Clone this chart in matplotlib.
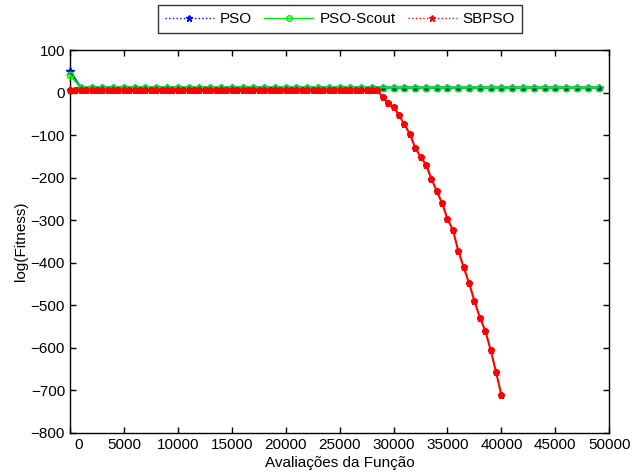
import matplotlib.pyplot as plt
import matplotlib.transforms as mtransforms
from matplotlib.lines import Line2D
import numpy as np

plt.rcParams['font.family'] = ['Liberation Sans', 'DejaVu Sans']
plt.rcParams['font.size'] = 11

# PSO and PSO-Scout: one point every 1000 evaluations
x_pso = np.arange(0, 50000, 1000)
pso = [50] + [12] * 49
pso_scout = [42] + [12] * 49

# SBPSO: one point every 500 evaluations
x_sbpso = np.arange(0, 40001, 500)
sbpso = [6] * 58 + [-11, -25, -33, -53, -74, -97, -129, -151, -169, -202,
                    -231, -260, -297, -323, -372, -411, -448, -490, -529,
                    -560, -605, -657, -712]

xticks = np.arange(0, 50001, 5000)
yticks = np.arange(-800, 101, 100)

fig = plt.figure(figsize=(6.36, 4.73), dpi=100)
ax = fig.add_axes([0.110, 0.085, 0.848, 0.809])

ax.plot(x_pso, pso, color='#0000ff', lw=1.5, marker='*', ms=6, mew=1,
        clip_on=False, zorder=3)
ax.plot(x_pso, pso_scout, color='#00ee00', lw=1.5, marker='o', ms=4.5,
        mfc='none', mew=1.2, clip_on=False, zorder=3)
ax.plot(x_sbpso, sbpso, color='#ff0000', lw=1.5, marker='*', ms=5, mew=1,
        clip_on=False, zorder=4)
ax.plot(x_sbpso, sbpso, color='#ff0000', lw=0, marker='o', ms=4,
        clip_on=False, zorder=4)

ax.set_xlim(0, 50000)
ax.set_ylim(-800, 100)
ax.set_xticks(xticks)
ax.set_yticks(yticks)
ax.tick_params(direction='in', top=True, right=True, length=4, width=1,
               labelsize=11)
for s in ax.spines.values():
    s.set_linewidth(1)

# MATLAB-ish nudge on the "0" label
lbl0 = ax.get_xticklabels()[0]
lbl0.set_transform(lbl0.get_transform() +
                   mtransforms.ScaledTranslation(9 / 100, 0, fig.dpi_scale_trans))

ax.set_xlabel('Avaliações da Função', fontsize=11, labelpad=3)
ax.set_ylabel('log(Fitness)', fontsize=11, labelpad=2)

handles = [
    Line2D([], [], color='#0000ff', ls=':', lw=1, marker='*', ms=5),
    Line2D([], [], color='#00ee00', ls='-', lw=1, marker='o', ms=4, mfc='none'),
    Line2D([], [], color='#ff0000', ls=':', lw=1, marker='*', ms=5),
]
leg = fig.legend(handles, ['PSO', 'PSO-Scout', 'SBPSO'], ncol=3,
                 loc='center', bbox_to_anchor=(340 / 636, 1 - 19 / 473),
                 fancybox=False, edgecolor='#333333', framealpha=1,
                 fontsize=11, handlelength=3.2, columnspacing=0.8,
                 borderpad=0.45, handletextpad=0.4)
leg.get_frame().set_linewidth(1)

fig.savefig('out.png', dpi=100)
